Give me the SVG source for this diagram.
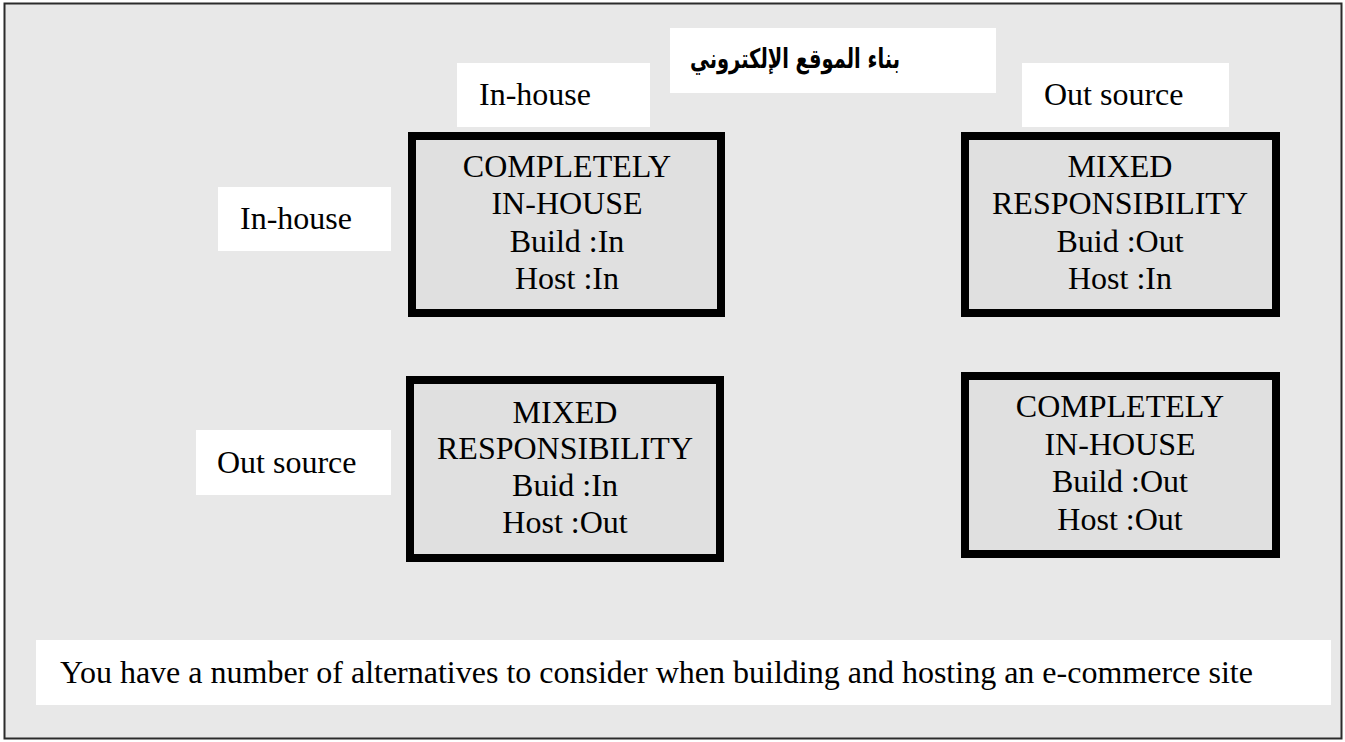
<svg xmlns="http://www.w3.org/2000/svg" width="1345" height="742" viewBox="0 0 1345 742">
<style>
.bg{fill:#e8e8e8;stroke:#2b2b2b;stroke-width:2}
.lbl{fill:#ffffff;stroke:none}
.box{fill:#e0e0e0;stroke:#000000;stroke-width:8}
.t{font-family:"Liberation Serif","Times New Roman",serif;font-size:32px;fill:#000}
.c{text-anchor:middle}
.ar{font-family:"DejaVu Sans","Noto Sans",sans-serif;font-size:27px;font-weight:bold;fill:#000}
</style>
<rect class="bg" x="4.5" y="3.5" width="1337" height="735"/>
<g id="title">
<rect class="lbl" x="670" y="28" width="326" height="65"/>
<text class="ar" x="795" y="68" text-anchor="middle" textLength="210" lengthAdjust="spacingAndGlyphs">بناء الموقع الإلكتروني</text>
</g>
<g id="col-inhouse">
<rect class="lbl" x="457" y="63" width="193" height="64"/>
<text class="t" x="479" y="105">In-house</text>
</g>
<g id="col-outsource">
<rect class="lbl" x="1022" y="63" width="207" height="64"/>
<text class="t" x="1044" y="105">Out source</text>
</g>
<g id="row-inhouse">
<rect class="lbl" x="218" y="187" width="173" height="64"/>
<text class="t" x="240" y="229">In-house</text>
</g>
<g id="row-outsource">
<rect class="lbl" x="196" y="430" width="195" height="65"/>
<text class="t" x="217" y="473">Out source</text>
</g>
<g id="box-tl">
<rect class="box" x="412" y="136" width="309" height="177"/>
<text class="t c" x="567" y="177">COMPLETELY</text>
<text class="t c" x="567" y="214">IN-HOUSE</text>
<text class="t c" x="567" y="252">Build :In</text>
<text class="t c" x="567" y="289">Host :In</text>
</g>
<g id="box-tr">
<rect class="box" x="965" y="136" width="311" height="177"/>
<text class="t c" x="1120" y="177">MIXED</text>
<text class="t c" x="1120" y="214">RESPONSIBILITY</text>
<text class="t c" x="1120" y="252">Buid :Out</text>
<text class="t c" x="1120" y="289">Host :In</text>
</g>
<g id="box-bl">
<rect class="box" x="410" y="380" width="310" height="178"/>
<text class="t c" x="565" y="423">MIXED</text>
<text class="t c" x="565" y="459">RESPONSIBILITY</text>
<text class="t c" x="565" y="496">Buid :In</text>
<text class="t c" x="565" y="533">Host :Out</text>
</g>
<g id="box-br">
<rect class="box" x="965" y="376" width="311" height="178"/>
<text class="t c" x="1120" y="417">COMPLETELY</text>
<text class="t c" x="1120" y="455">IN-HOUSE</text>
<text class="t c" x="1120" y="492">Build :Out</text>
<text class="t c" x="1120" y="530">Host :Out</text>
</g>
<g id="caption">
<rect class="lbl" x="36" y="640" width="1295" height="65"/>
<text class="t" x="60" y="683">You have a number of alternatives to consider when building and hosting an e-commerce site</text>
</g>
<g id="connectors"/>
</svg>
